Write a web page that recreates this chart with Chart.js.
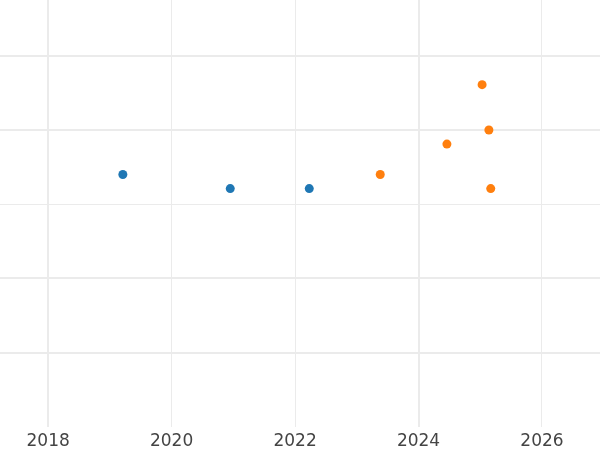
<!DOCTYPE html>
<html>
<head>
<meta charset="utf-8">
<script src="https://cdn.jsdelivr.net/npm/chart.js@4"></script>
<style>
  html, body { margin: 0; padding: 0; background: #fff; }
  #wrap { width: 600px; height: 450px; }
</style>
</head>
<body>
<div id="wrap"><canvas id="chart"></canvas></div>
<script>
// series A (blue)
const blueYears = [2019.21, 2020.95, 2022.23];
const blueValues = [3.40, 3.21, 3.21];
// series B (orange)
const orangeYears = [2023.38, 2024.46, 2025.03, 2025.14, 2025.17];
const orangeValues = [3.40, 3.81, 4.61, 4.00, 3.21];
// tick labels
const yearTicks = [2018, 2020, 2022, 2024, 2026];
const valueTicks = [1, 2, 3, 4, 5];

const toPoints = (xs, ys) => xs.map((x, i) => ({ x, y: ys[i] }));

const heavyX = [2018, 2024];
const heavyY = [1, 2, 4, 5];

const ctx = document.getElementById('chart').getContext('2d');
new Chart(ctx, {
    type: 'scatter',
    data: {
        datasets: [
            {
                label: 'A',
                data: toPoints(blueYears, blueValues),
                backgroundColor: '#1f77b4',
                pointRadius: 4.5,
                pointBorderWidth: 0
            },
            {
                label: 'B',
                data: toPoints(orangeYears, orangeValues),
                backgroundColor: '#ff7f0e',
                pointRadius: 4.5,
                pointBorderWidth: 0
            }
        ]
    },
    options: {
        responsive: true,
        maintainAspectRatio: false,
        animation: false,
        layout: { padding: 0, autoPadding: false },
        plugins: {
            legend: { display: false },
            tooltip: { enabled: false }
        },
        scales: {
            x: {
                type: 'linear',
                min: 2017.22,
                max: 2026.94,
                afterBuildTicks: (scale) => {
                    scale.ticks = yearTicks.map((value) => ({ value }));
                },
                afterFit: (scale) => {
                    scale.height = 23;
                },
                border: { display: false },
                grid: {
                    drawTicks: false,
                    color: '#ebebeb',
                    lineWidth: (c) => (c.tick && heavyX.includes(c.tick.value) ? 2 : 1)
                },
                ticks: {
                    padding: 4,
                    maxRotation: 0,
                    autoSkip: false,
                    color: '#444',
                    font: { family: 'DejaVu Sans', size: 17, lineHeight: 1.2 },
                    callback: (v) => String(v)
                }
            },
            y: {
                min: 0,
                max: 5.75,
                afterBuildTicks: (scale) => {
                    scale.ticks = valueTicks.map((value) => ({ value }));
                },
                border: { display: false },
                grid: {
                    drawTicks: false,
                    color: '#ebebeb',
                    lineWidth: (c) => (c.tick && heavyY.includes(c.tick.value) ? 2 : 1)
                },
                ticks: { display: false }
            }
        }
    }
});
</script>
</body>
</html>
